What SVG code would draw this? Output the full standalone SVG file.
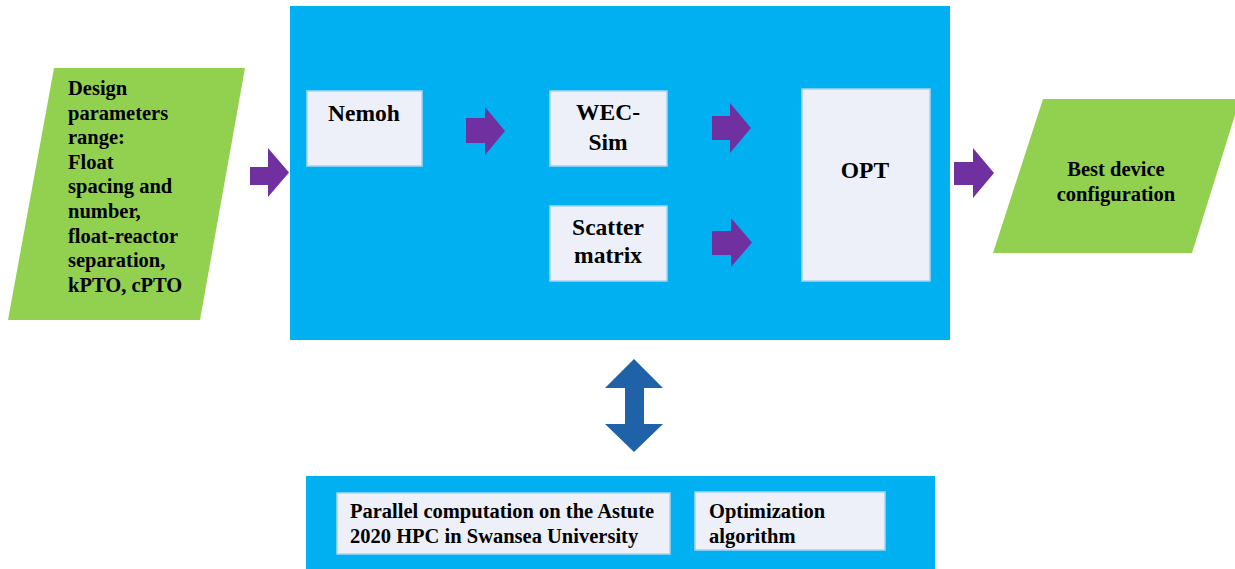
<svg xmlns="http://www.w3.org/2000/svg" width="1235" height="569" viewBox="0 0 1235 569">
<style>
.t{font-family:"Liberation Serif","Times New Roman",serif;font-weight:bold;fill:#000}
.s{font-size:20.5px}
.b{font-size:23.5px}
.panel{fill:#00B0F0}
.box{fill:#EDF0F8;stroke:#A9D4F2;stroke-width:1.5}
.io{fill:#92D050}
.pa{fill:#7030A0}
</style>
<rect width="1235" height="569" fill="#fff"/>
<g id="main-panel"><rect class="panel" x="290" y="6" width="660" height="334"/></g>
<g id="hpc-panel"><rect class="panel" x="306" y="476" width="629" height="93"/></g>
<g id="design-params">
<polygon class="io" points="54,68 245,68 200,320 8,320"/>
<text class="t s" x="68">
<tspan x="68" y="95">Design</tspan>
<tspan x="68" y="119.6">parameters</tspan>
<tspan x="68" y="144.2">range:</tspan>
<tspan x="68" y="168.8">Float</tspan>
<tspan x="68" y="193.4">spacing and</tspan>
<tspan x="68" y="218">number,</tspan>
<tspan x="68" y="242.6">float-reactor</tspan>
<tspan x="68" y="267.2">separation,</tspan>
<tspan x="68" y="291.8">kPTO, cPTO</tspan>
</text>
</g>
<g id="nemoh"><rect class="box" x="307" y="91" width="115" height="75"/><text class="t b" x="364" y="121" text-anchor="middle">Nemoh</text></g>
<g id="wecsim"><rect class="box" x="550" y="91" width="117" height="75"/><text class="t b" text-anchor="middle"><tspan x="608" y="120">WEC-</tspan><tspan x="608" y="150">Sim</tspan></text></g>
<g id="scatter"><rect class="box" x="550" y="206" width="117" height="75"/><text class="t b" text-anchor="middle"><tspan x="608" y="235">Scatter</tspan><tspan x="608" y="263">matrix</tspan></text></g>
<g id="opt"><rect class="box" x="802" y="89" width="128" height="192"/><text class="t b" x="865" y="178" text-anchor="middle">OPT</text></g>
<g id="best-config">
<polygon class="io" points="1043,99 1240,99 1192,253 993,253"/>
<text class="t s" text-anchor="middle"><tspan x="1116" y="176">Best device</tspan><tspan x="1116" y="201">configuration</tspan></text>
</g>
<g id="parallel"><rect class="box" x="337" y="493" width="333" height="61"/><text class="t s"><tspan x="350" y="518">Parallel computation on the Astute</tspan><tspan x="350" y="543">2020 HPC in Swansea University</tspan></text></g>
<g id="optalg"><rect class="box" x="695" y="492" width="190" height="58"/><text class="t s"><tspan x="709" y="518">Optimization</tspan><tspan x="709" y="543">algorithm</tspan></text></g>
<g id="connectors">
<polygon class="pa" points="250,167 268,167 268,148 289,172.5 268,197 268,185 250,185"/>
<polygon class="pa" points="466,118 485,118 485,107 505,131 485,155 485,143 466,143"/>
<polygon class="pa" points="712,116 730,116 730,103 751,128 730,153 730,140 712,140"/>
<polygon class="pa" points="712,231 731,231 731,218 752,242.5 731,267 731,255 712,255"/>
<polygon class="pa" points="954,162 973,162 973,148 994,173 973,198 973,185 954,185"/>
<polygon fill="#2062A8" points="634,359 663,388 644,388 644,424 663,424 634,452 605,424 625,424 625,388 605,388"/>
</g>
</svg>
